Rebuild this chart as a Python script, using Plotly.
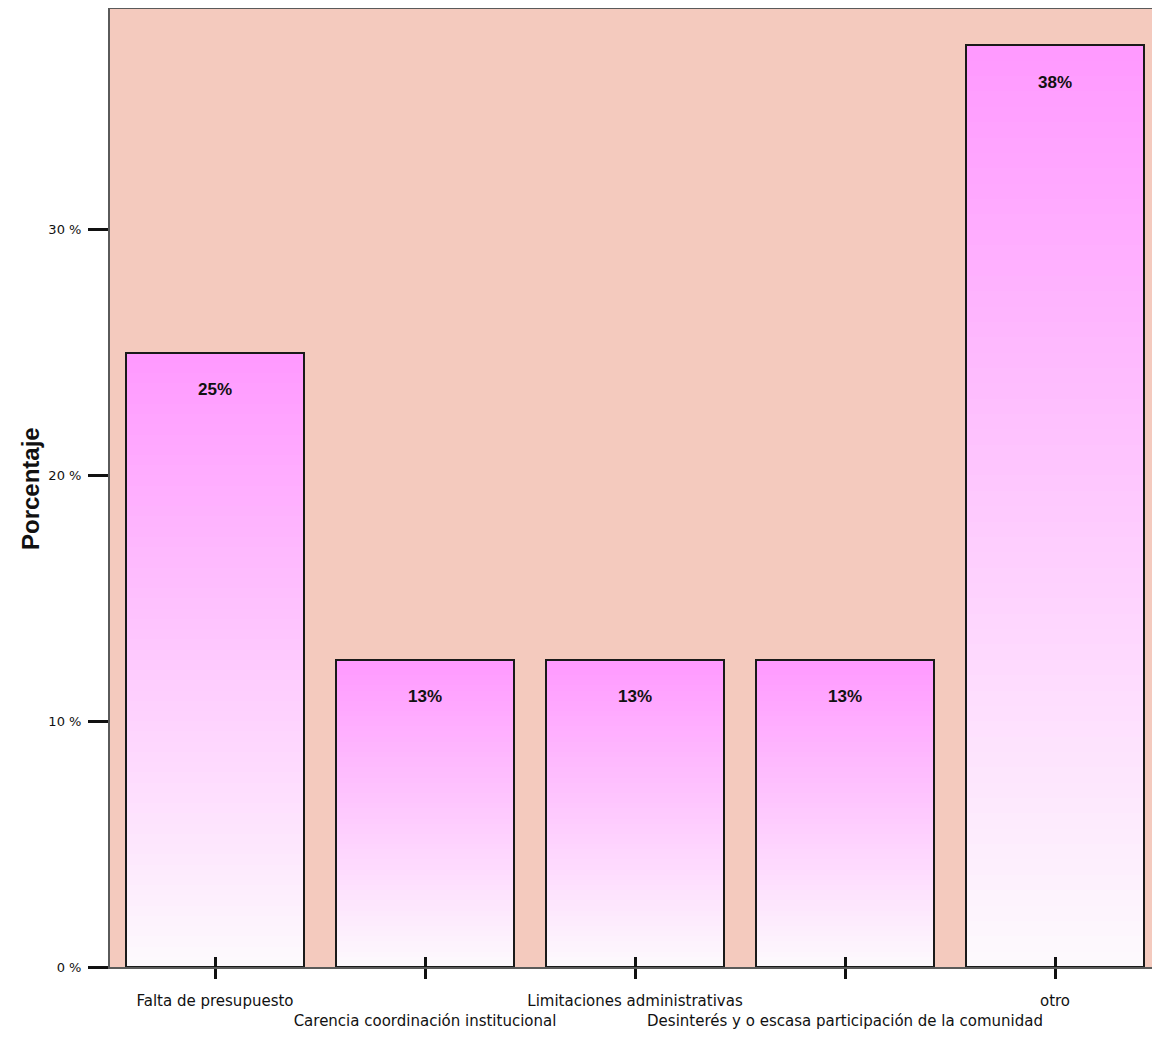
import plotly.graph_objects as go

categories = ["Falta de presupuesto", "Carencia coordinación institucional",
              "Limitaciones administrativas",
              "Desinterés y o escasa participación de la comunidad", "otro"]
values = [25.0, 12.5, 12.5, 12.5, 37.5]
value_labels = ["25%", "13%", "13%", "13%", "38%"]
y_tickvals = [0, 10, 20, 30]
y_ticktext = ["0 %", "10 %", "20 %", "30 %"]

positions = list(range(len(categories)))
tick_text = [c if i % 2 == 0 else "<br>" + c for i, c in enumerate(categories)]

top_rgb = (255, 153, 255)
bot_rgb = (253, 250, 253)
N = 60
bar_w = 0.848

fig = go.Figure()
for k in range(N):
    t = (k + 0.5) / N
    col = tuple(round(bot_rgb[j] + (top_rgb[j] - bot_rgb[j]) * t) for j in range(3))
    fig.add_trace(go.Bar(
        x=positions, y=[v / N * 1.6 if k < N - 1 else v / N for v in values],
        base=[v * k / N for v in values], width=bar_w,
        marker=dict(color="rgb(%d,%d,%d)" % col, line=dict(width=0)),
        hoverinfo="skip", showlegend=False))

fig.add_trace(go.Bar(
    x=positions, y=values, width=bar_w,
    marker=dict(color="rgba(0,0,0,0)", line=dict(color="#1a1a1a", width=2)),
    hovertemplate="%{y}%<extra></extra>", showlegend=False))

# invisible trace for the secondary x axis (inside tick marks)
fig.add_trace(go.Scatter(x=positions, y=values, xaxis="x2", mode="markers",
                         marker=dict(opacity=0), hoverinfo="skip", showlegend=False))

for p, v, lab in zip(positions, values, value_labels):
    fig.add_annotation(x=p, y=v, text="<b>" + lab + "</b>", showarrow=False,
                       yshift=-37, font=dict(family="Arial", size=17, color="#111"))

fig.add_annotation(x=-80 / 1050, xref="paper", xanchor="center", y=0.5, yref="paper",
                   text="<b>Porcentaje</b>", textangle=-90, showarrow=False,
                   font=dict(family="Arial", size=24, color="#111"))

fig.update_layout(
    width=1160, height=1046, barmode="overlay", bargap=0,
    margin=dict(l=102, r=8, t=1, b=87, autoexpand=False),
    paper_bgcolor="white", plot_bgcolor="#f4cabe",
    xaxis=dict(range=[-0.5, len(categories) - 0.5], tickvals=positions, ticktext=tick_text,
               ticks="outside", ticklen=10, tickwidth=3, tickcolor="#111", tickangle=0,
               showline=True, linecolor="#5a5a5a", linewidth=2, mirror=True,
               showgrid=False, zeroline=False, ticklabelstandoff=9, automargin=False,
               tickfont=dict(family="DejaVu Sans", size=15, color="#111")),
    xaxis2=dict(range=[-0.5, len(categories) - 0.5], overlaying="x", matches="x",
                tickvals=positions, showticklabels=False, ticks="inside",
                ticklen=10, tickwidth=3, tickcolor="#111", showline=False,
                showgrid=False, zeroline=False, side="bottom", automargin=False),
    yaxis=dict(range=[0, 38.98], tickvals=y_tickvals, ticktext=y_ticktext,
               ticks="outside", ticklen=20, tickwidth=3, tickcolor="#111",
               showline=True, linecolor="#5a5a5a", linewidth=2, mirror=True,
               showgrid=False, zeroline=False, ticklabelstandoff=4, automargin=False,
               tickfont=dict(family="DejaVu Sans", size=13, color="#111")),
)

fig.write_html("out.html")
